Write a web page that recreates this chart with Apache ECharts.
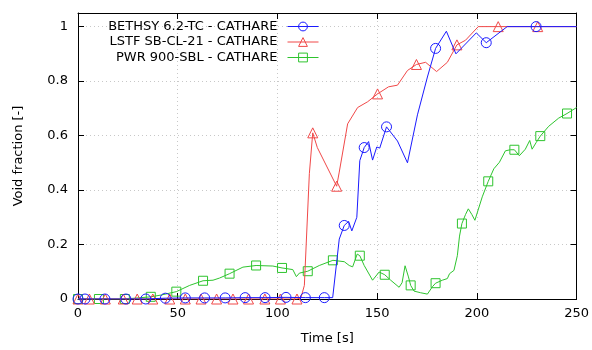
<!DOCTYPE html>
<html>
<head>
<meta charset="utf-8">
<script src="https://cdn.jsdelivr.net/npm/echarts@6/dist/echarts.min.js"></script>
<style>html,body{margin:0;padding:0;background:#fff}#c{width:592px;height:350px}</style>
</head>
<body>
<div id="c"></div>
<script>
// ---- data ----
const seriesNames = ['BETHSY 6.2-TC - CATHARE', 'LSTF SB-CL-21 - CATHARE', 'PWR 900-SBL - CATHARE'];
const xLabel = 'Time [s]';
const yLabel = 'Void fraction [-]';

const bethsy = [[0,0],[3.5,0],[13.5,0],[24,0],[34,0],[43.8,0.003],[53.8,0.004],[63.5,0.004],[73.8,0.004],[83.8,0.005],[93.8,0.005],[104.3,0.006],[114,0.005],[123.5,0.005],[127.7,0.005],[131,0.22],[133.5,0.27],[135.7,0.285],[137.3,0.25],[139.8,0.30],[141.3,0.508],[143.5,0.556],[145.7,0.578],[147.7,0.51],[149.8,0.558],[151.3,0.554],[154.7,0.632],[160.2,0.58],[165.2,0.5],[170.2,0.676],[175.2,0.815],[179.3,0.92],[184.7,0.983],[189.5,0.9],[199.7,0.977],[204.7,0.941],[215.2,1.0],[229.7,1.0],[250,1.0]];
const bethsyMarks = [0,3.5,13.5,24,34,43.8,53.8,63.5,73.8,83.8,93.8,104.3,114,123.5,133.5,143.5,154.7,179.3,204.7,229.7];

const lstf = [[0,0],[5.7,0],[13.7,0],[22.7,0],[29.7,0],[37.5,0],[46,0],[53.8,0],[61.7,0],[69.5,0],[77.7,0],[85.5,0],[93.7,0],[101.5,0],[109.8,0],[111.8,0.005],[113.5,0.05],[116,0.46],[117.7,0.61],[120,0.556],[129.7,0.414],[131,0.466],[135.2,0.643],[140.2,0.703],[145.2,0.724],[150.2,0.753],[155.7,0.779],[160.2,0.785],[165.2,0.839],[169.7,0.861],[174.3,0.869],[179.8,0.835],[185.2,0.869],[190,0.933],[194.3,0.95],[200.7,1.0],[210.7,1.0],[230.5,1.0],[250,1.0]];
const lstfMarks = [0,5.7,13.7,22.7,29.7,37.5,46,53.8,61.7,69.5,77.7,85.5,93.7,101.5,109.8,117.7,129.7,150.2,169.7,190,210.7,230.5];

const pwr = [[0,0],[10.5,0],[23.5,0],[36.5,0.008],[42,0.015],[49.3,0.027],[56,0.05],[62.7,0.067],[67.7,0.069],[71,0.077],[76,0.093],[82.7,0.117],[89.3,0.123],[97.7,0.121],[102.3,0.114],[107.7,0.108],[109.5,0.082],[111,0.095],[115.2,0.102],[121,0.123],[127.8,0.142],[133.5,0.137],[136,0.123],[137.7,0.118],[140,0.165],[141.3,0.159],[143.5,0.123],[147.7,0.069],[151,0.099],[153.8,0.089],[156.8,0.069],[161,0.043],[162.5,0.06],[164,0.122],[165.7,0.081],[166.8,0.05],[168.5,0.029],[171.8,0.023],[175.2,0.018],[177.7,0.045],[179.3,0.058],[182.7,0.069],[185.2,0.075],[186.3,0.093],[188.5,0.105],[190.2,0.159],[191.3,0.231],[192.5,0.277],[194.3,0.31],[195.7,0.331],[197.5,0.31],[199,0.289],[202.7,0.375],[205.7,0.432],[208.5,0.478],[211.3,0.502],[214.3,0.544],[216.8,0.548],[218.8,0.548],[221.3,0.526],[224.3,0.55],[226.5,0.582],[227.7,0.55],[229.7,0.574],[231.8,0.598],[236,0.634],[241,0.664],[245.2,0.681],[250,0.703]];
const pwrMarks = [0,10.5,23.5,36.5,49.3,62.7,76,89.3,102.3,115.2,127.8,141.3,153.8,166.8,179.3,192.5,205.7,218.8,231.8,245.2];

const xMin = 0, xMax = 250, xStep = 50;
const yMin = 0, yMax = 1.05, yStep = 0.2;

// ---- chart ----
const FONT = 'DejaVu Sans';
const colors = ['#1a1aff', '#f04848', '#2ec42e'];
const symbols = ['circle', 'triangle', 'rect'];
const symSizes = [10, 10, 9];

function buildData(pts, marks) {
  const set = new Set(marks);
  return pts.map(p => set.has(p[0]) ? { value: p } : { value: p, symbol: 'none' });
}

function mkSeries(name, pts, marks, i) {
  return {
    name: name,
    type: 'line',
    data: buildData(pts, marks),
    symbol: symbols[i],
    symbolSize: symSizes[i],
    showAllSymbol: true,
    color: colors[i],
    lineStyle: { color: colors[i], width: 1 },
    itemStyle: { color: 'rgba(255,255,255,0)', borderColor: colors[i], borderWidth: 1 },
    emphasis: { disabled: true },
    animation: false,
    z: 10 - i
  };
}

const axisText = { color: '#000', fontFamily: FONT, fontSize: 13 };
const gridLine = { show: true, lineStyle: { color: '#c8c8c8', type: [1, 3], width: 1 } };

const chart = echarts.init(document.getElementById('c'), null, { renderer: 'canvas' });
chart.setOption({
  backgroundColor: '#fff',
  animation: false,
  textStyle: { fontFamily: FONT },
  grid: { left: 78, right: 14, top: 13, bottom: 46, show: false },
  legend: {
    orient: 'vertical',
    align: 'right',
    right: 273,
    top: 20,
    padding: 0,
    itemWidth: 31,
    itemHeight: 11,
    itemGap: 2.5,
    lineStyle: { width: 1 },
    itemStyle: { borderWidth: 1 },
    textStyle: { color: '#000', fontFamily: FONT, fontSize: 13, padding: [0, 5, 0, 0] },
    data: seriesNames,
    selectedMode: false
  },
  xAxis: [{
    type: 'value', min: xMin, max: xMax, interval: xStep,
    name: xLabel, nameLocation: 'middle', nameGap: 33,
    nameTextStyle: axisText,
    axisLine: { show: true, onZero: false, lineStyle: { color: '#000', width: 1 } },
    axisTick: { show: true, inside: true, length: 6, lineStyle: { color: '#000' } },
    axisLabel: Object.assign({ margin: 8 }, axisText),
    splitLine: gridLine
  }, {
    type: 'value', min: xMin, max: xMax, interval: xStep, position: 'top',
    axisLine: { show: true, onZero: false, lineStyle: { color: '#000', width: 1 } },
    axisTick: { show: true, inside: true, length: 6, lineStyle: { color: '#000' } },
    axisLabel: { show: false }, splitLine: { show: false }
  }],
  yAxis: [{
    type: 'value', min: yMin, max: yMax, interval: yStep,
    name: yLabel, nameLocation: 'middle', nameGap: 53, nameRotate: 90,
    nameTextStyle: axisText,
    axisLine: { show: true, onZero: false, lineStyle: { color: '#000', width: 1 } },
    axisTick: { show: true, inside: true, length: 6, lineStyle: { color: '#000' } },
    axisLabel: Object.assign({ margin: 10, showMaxLabel: false,
      formatter: v => (Math.abs(v / yStep - Math.round(v / yStep)) < 1e-6) ? String(+v.toFixed(1)) : '' }, axisText),
    splitLine: gridLine
  }, {
    type: 'value', min: yMin, max: yMax, interval: yStep, position: 'right',
    axisLine: { show: true, onZero: false, lineStyle: { color: '#000', width: 1 } },
    axisTick: { show: true, inside: true, length: 6, lineStyle: { color: '#000' } },
    axisLabel: { show: false }, splitLine: { show: false }
  }],
  series: [
    mkSeries(seriesNames[0], bethsy, bethsyMarks, 0),
    mkSeries(seriesNames[1], lstf, lstfMarks, 1),
    mkSeries(seriesNames[2], pwr, pwrMarks, 2)
  ]
});
</script>
</body>
</html>
